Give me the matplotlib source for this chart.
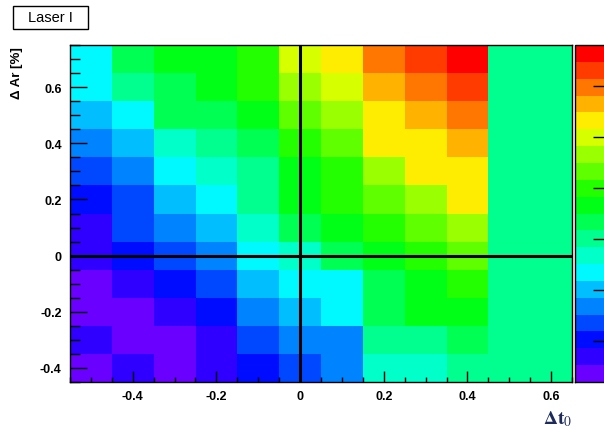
import colorsys
import matplotlib
matplotlib.use("Agg")
import matplotlib.pyplot as plt
import numpy as np
from matplotlib.colors import ListedColormap, BoundaryNorm
from matplotlib.patches import Rectangle
from matplotlib.ticker import MultipleLocator

plt.rcParams['font.family'] = ['Liberation Sans', 'DejaVu Sans']
plt.rcParams['mathtext.fontset'] = 'stix'

# bin centres
dt0 = [-0.5, -0.4, -0.3, -0.2, -0.1, 0.0, 0.1, 0.2, 0.3, 0.4, 0.5, 0.6]
dar = [-0.4, -0.3, -0.2, -0.1, 0.0, 0.1, 0.2, 0.3, 0.4, 0.5, 0.6, 0.7]

# cell contents, top row (dAr = 0.7) first
z_top_down = [
    [-0.13, 0.07, 0.13, 0.13, 0.20, 0.40, 0.46, 0.59, 0.66, 0.73, 0.0, 0.0],
    [-0.13, 0.00, 0.07, 0.13, 0.20, 0.33, 0.40, 0.53, 0.59, 0.66, 0.0, 0.0],
    [-0.20, -0.13, 0.07, 0.07, 0.13, 0.26, 0.33, 0.46, 0.53, 0.59, 0.0, 0.0],
    [-0.26, -0.20, -0.07, 0.00, 0.07, 0.20, 0.26, 0.46, 0.46, 0.53, 0.0, 0.0],
    [-0.33, -0.26, -0.13, -0.07, 0.00, 0.13, 0.20, 0.33, 0.46, 0.46, 0.0, 0.0],
    [-0.40, -0.33, -0.20, -0.13, 0.00, 0.13, 0.20, 0.26, 0.33, 0.46, 0.0, 0.0],
    [-0.46, -0.33, -0.26, -0.20, -0.07, 0.07, 0.13, 0.20, 0.26, 0.33, 0.0, 0.0],
    [-0.46, -0.40, -0.33, -0.26, -0.13, -0.07, 0.07, 0.13, 0.20, 0.26, 0.0, 0.0],
    [-0.53, -0.46, -0.40, -0.33, -0.20, -0.13, -0.13, 0.07, 0.13, 0.20, 0.0, 0.0],
    [-0.53, -0.53, -0.46, -0.40, -0.26, -0.20, -0.13, 0.07, 0.13, 0.13, 0.0, 0.0],
    [-0.46, -0.53, -0.53, -0.46, -0.33, -0.26, -0.26, 0.00, 0.00, 0.07, 0.0, 0.0],
    [-0.53, -0.46, -0.53, -0.46, -0.40, -0.33, -0.26, -0.07, -0.07, 0.00, 0.0, 0.0],
]
z = np.array(z_top_down[::-1])

zmin, zmax, ncont = -0.56, 0.76, 20

# ROOT "pretty" palette: HLS hue scan violet -> red
hues = np.linspace(265, 0, ncont)
cols = [colorsys.hls_to_rgb(h / 360.0, 0.5, 1.0) for h in hues]
cmap = ListedColormap(cols)
norm = BoundaryNorm(np.linspace(zmin, zmax, ncont + 1), ncont)

xc = np.array(dt0)
yc = np.array(dar)
xe = np.concatenate([xc - 0.05, [xc[-1] + 0.05]])
ye = np.concatenate([yc - 0.05, [yc[-1] + 0.05]])

fig = plt.figure(figsize=(6.04, 4.31), dpi=100)
ax = fig.add_axes([70 / 604, 48 / 431, 502 / 604, 337 / 431])
mesh = ax.pcolormesh(xe, ye, z, cmap=cmap, norm=norm)
ax.set_xlim(xe[0], xe[-1])
ax.set_ylim(ye[0], ye[-1])

ax.axvline(0, color='black', lw=2.2)
ax.axhline(0, color='black', lw=2.2)

ticks = [-0.4, -0.2, 0, 0.2, 0.4, 0.6]
labels = ['-0.4', '-0.2', '0', '0.2', '0.4', '0.6']
ax.set_xticks(ticks)
ax.set_xticklabels(labels, fontweight='bold')
ax.set_yticks(ticks)
ax.set_yticklabels(labels, fontweight='bold')
ax.xaxis.set_minor_locator(MultipleLocator(0.05))
ax.yaxis.set_minor_locator(MultipleLocator(0.05))
ax.tick_params(axis='x', which='major', direction='in', length=8, width=1, labelsize=9, pad=6)
ax.tick_params(axis='x', which='minor', direction='in', length=3.6, width=1)
ax.tick_params(axis='y', which='major', direction='in', length=12, width=1, labelsize=9, pad=6)
ax.tick_params(axis='y', which='minor', direction='in', length=7, width=1)
for s in ax.spines.values():
    s.set_linewidth(1)

# palette on the right, partly cut by the canvas edge
cax = fig.add_axes([575 / 604, 48 / 431, 32 / 604, 337 / 431])
cb = fig.colorbar(mesh, cax=cax, ticks=ticks)
cb.outline.set_linewidth(1)
cax.tick_params(direction='in', length=10, width=1, labelright=False)

fig.text(17 / 604, 1 - 47 / 431, u'\u0394 Ar [%]', rotation=90, ha='center', va='top',
         fontsize=9.5, fontweight='bold')
fig.text(572 / 604, 1 - 429 / 431, r'$\mathbf{\Delta t}_0$', ha='right', va='bottom',
         fontsize=14, color='#1c2a5c')

# title pave
fig.patches.append(Rectangle((13 / 604, 1 - 30 / 431), 75 / 604, 23 / 431,
                             transform=fig.transFigure, fc='white', ec='black', lw=1))
fig.text(50.5 / 604, 1 - 18.5 / 431, 'Laser I', ha='center', va='center', fontsize=10.5)

fig.savefig('out.png', dpi=100)
